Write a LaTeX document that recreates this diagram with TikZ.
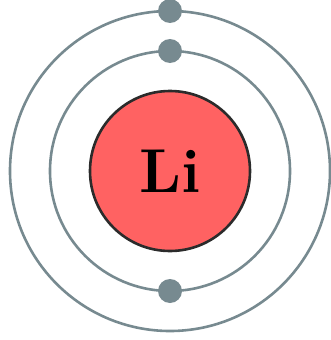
\documentclass[tikz,border=0pt]{standalone}
\usepackage{tikz}
\usetikzlibrary{positioning,calc}
\definecolor{orbitgrey}{HTML}{778A90}
\definecolor{nucleusred}{HTML}{FF6262}
\definecolor{nucleusedge}{HTML}{2B2B2B}
\tikzset{
  orbit/.style={draw=orbitgrey, line width=2.6pt},
  electron/.style={circle, fill=orbitgrey, minimum size=24pt, inner sep=0pt},
  nucleus/.style={circle, draw=nucleusedge, fill=nucleusred, line width=2.6pt,
    minimum size=160pt, inner sep=0pt, font=\fontsize{62}{62}\selectfont\bfseries}
}
\begin{document}
\begin{tikzpicture}[x=1pt,y=-1pt]
        \useasboundingbox (0,0) rectangle (330,340);
        \coordinate (core) at (170,171);
        \draw[orbit] (core) circle (160);
        \draw[orbit] (core) circle (120);
        \node[nucleus] (li) at (core) {Li};
        \node[electron] (outerTop) at ($(core)+(0,-160)$) {};
        \node[electron] (innerTop) at ($(core)+(0,-120)$) {};
        \node[electron] (innerBottom) at ($(core)+(0,120)$) {};
      \end{tikzpicture}
\end{document}
